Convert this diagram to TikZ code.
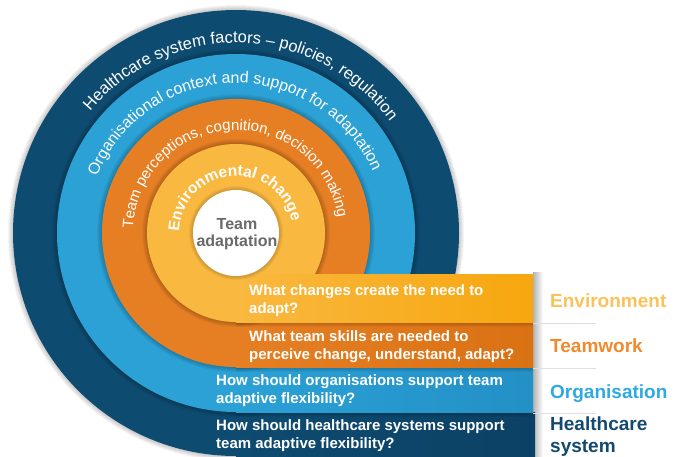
\documentclass[tikz,border=0pt]{standalone}
\usepackage{fontspec}
\setmainfont{Liberation Sans}
\usetikzlibrary{decorations.text}
\definecolor{navyc}{HTML}{0E4B70}
\definecolor{navyb}{HTML}{0B4164}
\definecolor{bluec}{HTML}{2BA1D6}
\definecolor{blueb}{HTML}{2390C6}
\definecolor{orangec}{HTML}{E67F24}
\definecolor{orangeb}{HTML}{DA7214}
\definecolor{yellowc}{HTML}{F9B840}
\definecolor{yellowb}{HTML}{F7A70E}
\definecolor{labenv}{HTML}{FBC15A}
\definecolor{labteam}{HTML}{F08A2C}
\definecolor{laborg}{HTML}{2FA9E1}
\definecolor{labhc}{HTML}{14496F}
\definecolor{centtxt}{HTML}{6A6A6A}
\tikzset{
  bandtxt/.style={anchor=base west, align=left, inner sep=0pt, text=white,
    font=\fontsize{15}{17.5}\selectfont\bfseries},
  lbl/.style={anchor=base west, align=left, inner sep=0pt,
    font=\fontsize{19}{22}\selectfont\bfseries},
  sepline/.style={draw=black!12, line width=1pt},
  halo/.style={black, opacity=0.045},
}
\begin{document}
\begin{tikzpicture}[x=1pt,y=1pt]
\useasboundingbox (0,0) rectangle (683,-456);
\coordinate (C) at (236,-233);
% outer halo
\foreach \k in {1,...,5} \fill[halo] (C) circle[radius={(223+\k)*1pt}];
% navy ring
\fill[navyc] (C) circle[radius=223pt];
% shadow right of bands
\shade[left color=black!30, right color=white] (533,-272) rectangle (543,-456);
\shade[left color=navyc, right color=navyb] (236,-412) rectangle (535,-456);
% blue ring
\foreach \k in {1,...,5} {\fill[halo] (C) circle[radius={(179+\k)*1pt}];
  \fill[halo] (236,-412) rectangle (533,{-412-\k});}
\fill[bluec] (C) circle[radius=179pt];
\shade[left color=bluec, right color=blueb] (236,-367) rectangle (533,-412);
% orange ring
\foreach \k in {1,...,5} {\fill[halo] (C) circle[radius={(134+\k)*1pt}];
  \fill[halo] (236,-367) rectangle (533,{-367-\k});}
\fill[orangec] (C) circle[radius=134pt];
\shade[left color=orangec, right color=orangeb] (236,-322) rectangle (533,-367);
% yellow ring
\foreach \k in {1,...,5} {\fill[halo] (C) circle[radius={(89+\k)*1pt}];
  \fill[halo] (236,-322) rectangle (533,{-322-\k});}
\fill[yellowc] (C) circle[radius=89pt];
\shade[left color=yellowc, right color=yellowb] (236,-274) rectangle (533,-322);
% centre
\foreach \k in {1,...,4} \fill[halo] (C) circle[radius={(43+\k)*1pt}];
\fill[white] (C) circle[radius=43pt];
\node[align=center, inner sep=0pt, text=centtxt,
  font=\fontsize{16}{16.5}\selectfont\bfseries] (ta) at (237,-234) {Team\\adaptation};
% arc texts
\path[decorate, decoration={text along path, text align=center, text color=white,
  text={|\fontsize{16.5}{18}\selectfont|Healthcare system factors – policies, regulation}}]
  ([shift={(208:190pt)}]C) arc[start angle=208, end angle=-32, radius=190pt];
\path[decorate, decoration={text along path, text align=center, text color=white,
  text={|\fontsize{16}{18}\selectfont|Organisational context and support for adaptation}}]
  ([shift={(211:150pt)}]C) arc[start angle=211, end angle=-29, radius=150pt];
\path[decorate, decoration={text along path, text align=center, text color=white,
  text={|\fontsize{15}{17}\selectfont|Team perceptions, cognition, decision making}}]
  ([shift={(213:103pt)}]C) arc[start angle=213, end angle=-27, radius=103pt];
\path[decorate, decoration={text along path, text align=center, text color=white,
  text={|\fontsize{15.5}{17}\selectfont\bfseries|Environmental change}}]
  ([shift={(215:57pt)}]C) arc[start angle=215, end angle=-25, radius=57pt];
% band texts (anchored on the baseline of their last line)
\node[bandtxt] (qenv) at (249,-313) {What changes create the need to\\adapt?};
\node[bandtxt] (qteam) at (249,-359) {What team skills are needed to\\perceive change, understand, adapt?};
\node[bandtxt] (qorg) at (216,-403) {How should organisations support team\\adaptive flexibility?};
\node[bandtxt] (qhc) at (216,-448) {How should healthcare systems support\\team adaptive flexibility?};
% separators
\coordinate (s1a) at (533,-323); \coordinate (s1b) at (596,-323);
\coordinate (s2a) at (533,-368); \coordinate (s2b) at (596,-368);
\coordinate (s3a) at (533,-413); \coordinate (s3b) at (596,-413);
\draw[sepline] (s1a) -- (s1b);
\draw[sepline] (s2a) -- (s2b);
\draw[sepline] (s3a) -- (s3b);
% labels
\node[lbl, text=labenv] (lenv) at (550,-307) {Environment};
\node[lbl, text=labteam] (lteam) at (550,-352) {Teamwork};
\node[lbl, text=laborg] (lorg) at (550,-398) {Organisation};
\node[lbl, text=labhc] (lhc) at (550,-452) {Healthcare\\system};
\end{tikzpicture}
\end{document}
